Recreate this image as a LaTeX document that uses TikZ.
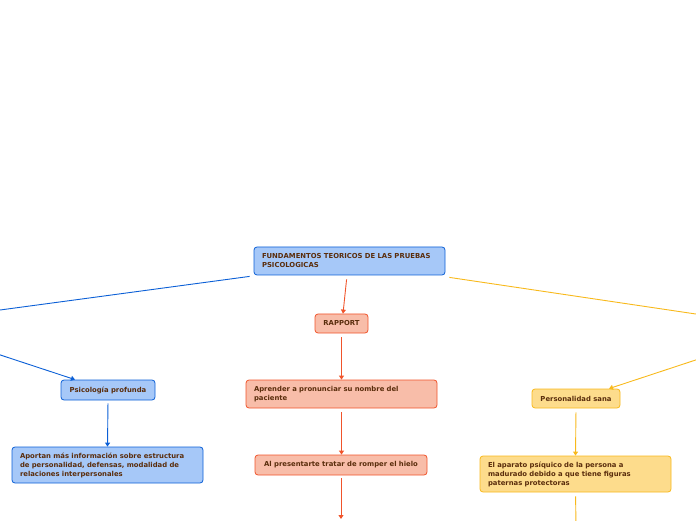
\documentclass[tikz,border=0pt]{standalone}
\usepackage{fontspec}
\setmainfont{DejaVu Sans}
\usetikzlibrary{arrows.meta}
\definecolor{txt}{HTML}{5A2D0C}
\definecolor{bfill}{HTML}{A6C8F8}
\definecolor{bline}{HTML}{0B5FD6}
\definecolor{ofill}{HTML}{F8BDA9}
\definecolor{oline}{HTML}{F0542B}
\definecolor{yfill}{HTML}{FDDC8C}
\definecolor{yline}{HTML}{F8B91B}
\tikzset{
  card/.style={draw, rounded corners=3pt, line width=0.8pt, text=txt,
    font=\fontsize{6.85}{9}\selectfont\bfseries, inner sep=0pt, align=left},
  bcard/.style={card, fill=bfill, draw=bline},
  ocard/.style={card, fill=ofill, draw=oline},
  ycard/.style={card, fill=yfill, draw=yline},
  conn/.style={line width=0.9pt, -{Triangle[width=5pt,length=4pt]}},
}
\begin{document}
\begin{tikzpicture}[x=1pt,y=1pt]
\useasboundingbox (0,0) rectangle (696,520);
\clip (0,0) rectangle (696,520);
% nodes
\node[bcard, minimum width=191pt, minimum height=28pt, text width=175pt] (root) at (349.5,259)
  {FUNDAMENTOS TEORICOS DE LAS PRUEBAS\\PSICOLOGICAS};
\node[ocard, minimum width=53pt, minimum height=19pt, align=center] (rapport) at (341.5,196.5) {RAPPORT};
\node[ocard, minimum width=191pt, minimum height=28pt, text width=175pt] (aprender) at (341.5,126)
  {Aprender a pronunciar su nombre del\\paciente};
\node[ocard, minimum width=172pt, minimum height=20pt, align=center] (alpres) at (341,55)
  {Al presentarte tratar de romper el hielo};
\node[bcard, minimum width=94pt, minimum height=20pt, align=center] (psico) at (108,130) {Psicología profunda};
\node[bcard, minimum width=191pt, minimum height=36pt, text width=175pt] (aportan) at (107.5,55)
  {Aportan más información sobre estructura\\de personalidad, defensas, modalidad de\\relaciones interpersonales};
\node[ycard, minimum width=88pt, minimum height=19pt, align=center] (sana) at (576,121.5) {Personalidad sana};
\node[ycard, minimum width=191pt, minimum height=36pt, text width=175pt] (aparato) at (575.5,46)
  {El aparato psíquico de la persona a\\madurado debido a que tiene figuras\\paternas protectoras};
% off-page coordinates
\coordinate (bl1) at (-20,207.3);
\coordinate (bl2) at (-20,171.7);
\coordinate (yr1) at (716,203);
\coordinate (yr2) at (716,166.7);
\coordinate (bot1) at (341,1);
\coordinate (bot2) at (576,-5);
% connectors
\draw[bline, line width=0.9pt] ([xshift=-4pt,yshift=-1pt]root.south west) -- (bl1);
\draw[bline, conn] (bl2) -- ([xshift=-33pt]psico.north);
\draw[bline, conn, shorten <=3pt] (psico.south) -- (aportan.north);
\draw[yline, line width=0.9pt] ([xshift=4pt,yshift=-2pt]root.south east) -- (yr1);
\draw[yline, conn] (yr2) -- ([xshift=33pt]sana.north);
\draw[yline, conn, shorten <=4pt] (sana.south) -- (aparato.north);
\draw[yline, line width=0.9pt, shorten <=4pt] (aparato.south) -- (bot2);
\draw[oline, conn, shorten <=4pt] ([xshift=-2.5pt]root.south) -- ([xshift=1.5pt]rapport.north);
\draw[oline, conn, shorten <=4pt] (rapport.south) -- (aprender.north);
\draw[oline, conn, shorten <=4pt] (aprender.south) -- ([xshift=0.5pt]alpres.north);
\draw[oline, conn, shorten <=3pt] (alpres.south) -- (bot1);
\end{tikzpicture}
\end{document}
